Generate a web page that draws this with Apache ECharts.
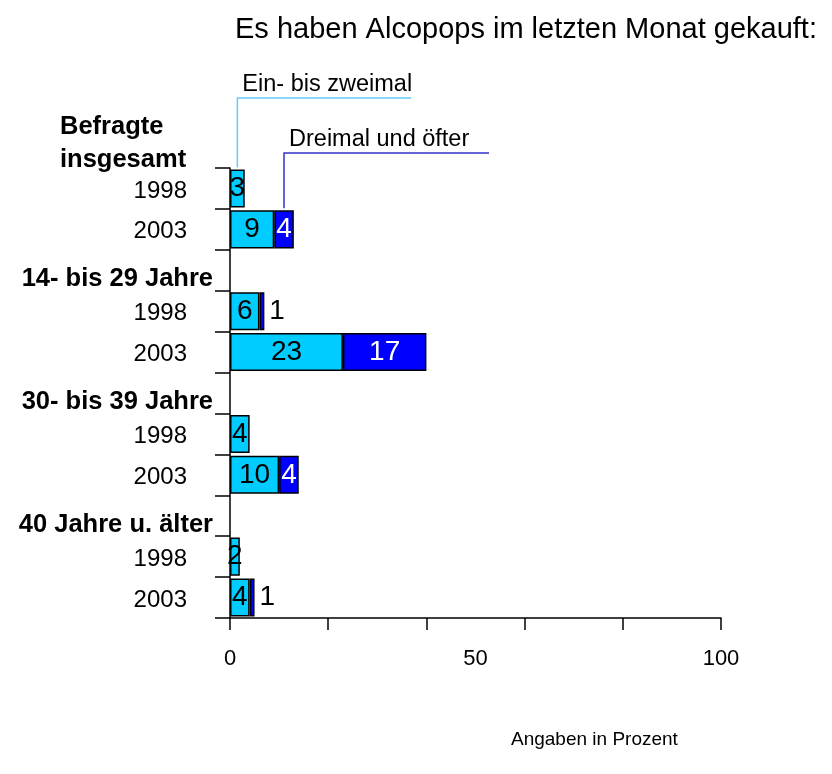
<!doctype html>
<html>
    <head>
        <meta charset="utf-8">
        <style>
            html, body { margin: 0; padding: 0; background: #fff; }
            #main { width: 832px; height: 774px; }
        </style>
    </head>
    <body>
        <div id="main"></div>
        <script src="https://cdn.jsdelivr.net/npm/echarts@6/dist/echarts.min.js"></script>
        <script>
            var groups = ['Befragte insgesamt', '14- bis 29 Jahre', '30- bis 39 Jahre', '40 Jahre u. älter'];
            var years = ['1998', '2003'];
            // Ein- bis zweimal / Dreimal und öfter, per group: [1998, 2003]
            var einBisZweimal = [[3, 9], [6, 23], [4, 10], [2, 4]];
            var dreimalOefter = [[0, 4], [1, 17], [0, 4], [0, 1]];
            var xTicks = [0, 20, 40, 60, 80, 100];
            var xLabels = [0, 50, 100];

            var font = 'Arial, "Liberation Sans", sans-serif';
            var lightBlue = '#00ccff';
            var darkBlue = '#0000ff';

            // first group header sits above the axis, the others get their own row
            var cats = [], isHeader = [], light = [], dark = [];
            groups.forEach(function (g, gi) {
                if (gi > 0) {
                    cats.push(g); isHeader.push(true);
                    light.push(null); dark.push(null);
                }
                years.forEach(function (y, yi) {
                    cats.push(y); isHeader.push(false);
                    light.push(einBisZweimal[gi][yi]);
                    var d = dreimalOefter[gi][yi];
                    if (!d) {
                        dark.push(null);
                    } else if (d < 2) {
                        dark.push({ value: d, label: { position: 'right', color: '#000', distance: 5 } });
                    } else {
                        dark.push(d);
                    }
                });
            });

            var chart = echarts.init(document.getElementById('main'));

            chart.setOption({
                animation: false,
                textStyle: { fontFamily: font },
                title: {
                    text: 'Es haben Alcopops im letzten Monat gekauft:',
                    left: 230,
                    top: 10,
                    textStyle: { fontSize: 29, fontWeight: 'normal', color: '#000', fontFamily: font }
                },
                grid: { left: 230, right: 111, top: 168, bottom: 156, containLabel: false },
                xAxis: [{
                    type: 'value',
                    min: xTicks[0],
                    max: xTicks[xTicks.length - 1],
                    interval: xTicks[1] - xTicks[0],
                    axisLine: { show: true, lineStyle: { color: '#000', width: 1.5 } },
                    axisTick: { show: true, length: 12, lineStyle: { color: '#000', width: 1.5 } },
                    axisLabel: { show: false },
                    splitLine: { show: false }
                }, {
                    type: 'value',
                    position: 'bottom',
                    min: xLabels[0],
                    max: xLabels[xLabels.length - 1],
                    interval: xLabels[1] - xLabels[0],
                    axisLine: { show: false },
                    axisTick: { show: false },
                    axisLabel: { show: true, margin: 30, fontSize: 22, color: '#000', fontFamily: font },
                    splitLine: { show: false }
                }],
                yAxis: {
                    type: 'category',
                    inverse: true,
                    data: cats,
                    axisLine: { show: true, lineStyle: { color: '#000', width: 1.5 } },
                    axisTick: { show: true, length: 15, interval: 0, lineStyle: { color: '#000', width: 1.5 } },
                    axisLabel: {
                        interval: 0,
                        margin: 17,
                        formatter: function (v, i) {
                            return isHeader[i] ? '{h|' + v + '}' : '{y|' + v + '}';
                        },
                        rich: {
                            h: { fontSize: 25.5, fontWeight: 'bold', color: '#000', fontFamily: font, padding: [18, 0, 0, 0] },
                            y: { fontSize: 24, color: '#000', fontFamily: font, padding: [5, 26, 0, 0] }
                        }
                    },
                    splitLine: { show: false }
                },
                series: [{
                    name: 'Ein- bis zweimal',
                    type: 'bar',
                    stack: 'a',
                    barCategoryGap: '7%',
                    data: light,
                    itemStyle: { color: lightBlue, borderColor: '#000', borderWidth: 1.5 },
                    label: { show: true, position: 'inside', color: '#000', fontSize: 28, fontFamily: font }
                }, {
                    name: 'Dreimal und öfter',
                    type: 'bar',
                    stack: 'a',
                    barCategoryGap: '7%',
                    data: dark,
                    itemStyle: { color: darkBlue, borderColor: '#000', borderWidth: 1.5 },
                    label: { show: true, position: 'inside', color: '#fff', fontSize: 28, fontFamily: font }
                }]
            });

            // callouts for the two series, anchored at the first bars that show them
            var c0 = chart.convertToPixel({ xAxisIndex: 0, yAxisIndex: 0 }, [einBisZweimal[0][0] / 2, 0]);
            var c1 = chart.convertToPixel({ xAxisIndex: 0, yAxisIndex: 0 }, [einBisZweimal[0][1] + dreimalOefter[0][1] / 2, 1]);
            var band = chart.convertToPixel({ yAxisIndex: 0 }, 1) - chart.convertToPixel({ yAxisIndex: 0 }, 0);
            var half = band * 0.93 / 2;

            function callout(pt, yLine, len, color, text) {
                return [{
                    type: 'polyline',
                    shape: { points: [[pt[0], pt[1] - half - 2], [pt[0], yLine], [pt[0] + len, yLine]] },
                    style: { stroke: color, lineWidth: 1.5, fill: null }
                }, {
                    type: 'text',
                    x: pt[0] + 5,
                    y: yLine - 1,
                    style: { text: text, fill: '#000', font: '23.5px ' + font, textVerticalAlign: 'bottom' }
                }];
            }

            chart.setOption({
                graphic: [].concat(
                    callout(c0, 98, 174, '#66ccff', 'Ein- bis zweimal'),
                    callout(c1, 153, 205, '#3333cc', 'Dreimal und öfter'),
                    [{
                        type: 'text',
                        left: 60,
                        top: 110,
                        style: { text: 'Befragte\ninsgesamt', fill: '#000', font: 'bold 25.5px ' + font, lineHeight: 33 }
                    }, {
                        type: 'text',
                        left: 511,
                        top: 730,
                        style: { text: 'Angaben in Prozent', fill: '#000', font: '19px ' + font }
                    }]
                )
            });

            window.onresize = chart.resize;
        </script>
    </body>
</html>
